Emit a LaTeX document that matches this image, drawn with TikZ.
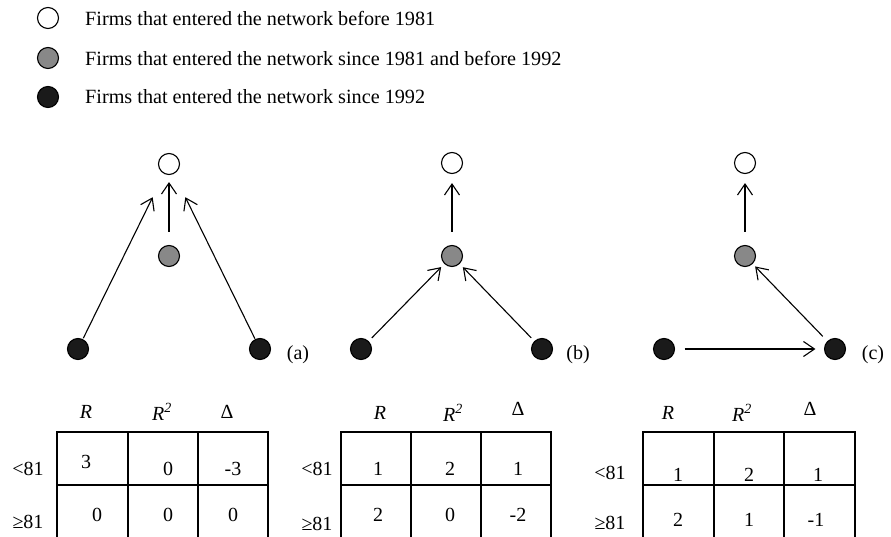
\documentclass[tikz,border=0pt]{standalone}
\usepackage{fontspec}
\setmainfont{Liberation Serif}
\usetikzlibrary{arrows.meta}
\definecolor{midgrey}{RGB}{136,136,136}
\definecolor{newblack}{RGB}{26,26,26}
\begin{document}
\begin{tikzpicture}[x=1pt,y=-1pt,
  firm/.style={circle,draw=black,line width=1.1pt,minimum size=21pt,inner sep=0pt},
  oldfirm/.style={firm,fill=white},
  midfirm/.style={firm,fill=midgrey},
  newfirm/.style={firm,fill=newblack},
  txt/.style={inner sep=0pt,font=\fontsize{20}{24}\selectfont},
  legtxt/.style={inner sep=0pt,anchor=west,font=\fontsize{20.2}{24}\selectfont},
  link/.style={-{Straight Barb[length=11pt,width=15pt]},line width=1.1pt},
  outer/.style={line width=2pt},
  inner/.style={line width=1.1pt}
]
\useasboundingbox (0,0) rectangle (891,537);
\clip (0,0) rectangle (891,537);

% legend
\node[oldfirm] (l1) at (48,18) {};
\node[midfirm] (l2) at (48,58) {};
\node[newfirm] (l3) at (48,97) {};
\node[legtxt] (t1) at (85,18) {Firms that entered the network before 1981};
\node[legtxt] (t2) at (85,58) {Firms that entered the network since 1981 and before 1992};
\node[legtxt] (t3) at (85,97) {Firms that entered the network since 1992};

% graph (a)
\node[oldfirm] (a1) at (169,164) {};
\node[midfirm] (a2) at (169,256) {};
\node[newfirm] (a3) at (78,349) {};
\node[newfirm] (a4) at (260,349) {};
\node[txt] (alab) at (298,355) {(a)};
\draw[link,shorten <=13pt,shorten >=7pt] (a2) -- (a1);
\draw[link,shorten <=1pt,shorten >=26pt] (a3) -- (a1);
\draw[link,shorten <=0.5pt,shorten >=26pt] (a4) -- (a1);

% graph (b)
\node[oldfirm] (b1) at (452,163) {};
\node[midfirm] (b2) at (452,256) {};
\node[newfirm] (b3) at (361,349) {};
\node[newfirm] (b4) at (542,349) {};
\node[txt] (blab) at (578,355) {(b)};
\draw[link,shorten <=13pt,shorten >=9pt] (b2) -- (b1);
\draw[link,shorten <=4.5pt,shorten >=4.5pt] (b3) -- (b2);
\draw[link,shorten <=4.5pt,shorten >=4.5pt] (b4) -- (b2);

% graph (c)
\node[oldfirm] (c1) at (745,163) {};
\node[midfirm] (c2) at (745,256) {};
\node[newfirm] (c3) at (664,349) {};
\node[newfirm] (c4) at (835,349) {};
\node[txt] (clab) at (873,355) {(c)};
\draw[link,shorten <=13pt,shorten >=9pt] (c2) -- (c1);
\draw[link,shorten <=9.5pt,shorten >=8.5pt] (c3) -- (c4);
\draw[link,shorten <=6.5pt,shorten >=3.5pt] (c4) -- (c2);

% table (a)
\draw[inner] (57,485) -- (268,485);
\draw[inner] (128,432) -- (128,545);
\draw[inner] (198,432) -- (198,545);
\draw[outer] (57,545) -- (57,432) -- (268,432) -- (268,545);
\node[txt] (ahR) at (86,412) {\textit{R}};
\node[txt] (ahR2) at (162,412) {\textit{R\textsuperscript{2}}};
\node[txt] (ahD) at (227,412) {Δ};
\node[txt] (ar1) at (28,469) {<81};
\node[txt] (ar2) at (28,522) {≥81};
\node[txt] (a11) at (86,462) {3};
\node[txt] (a12) at (168,469) {0};
\node[txt] (a13) at (233,469) {-3};
\node[txt] (a21) at (97,515) {0};
\node[txt] (a22) at (168,515) {0};
\node[txt] (a23) at (233,515) {0};

% table (b)
\draw[inner] (341,485) -- (551,485);
\draw[inner] (411,432) -- (411,545);
\draw[inner] (481,432) -- (481,545);
\draw[outer] (341,545) -- (341,432) -- (551,432) -- (551,545);
\node[txt] (bhR) at (380,413) {\textit{R}};
\node[txt] (bhR2) at (453,413) {\textit{R\textsuperscript{2}}};
\node[txt] (bhD) at (518,409) {Δ};
\node[txt] (br1) at (317,469) {<81};
\node[txt] (br2) at (317,524) {≥81};
\node[txt] (b11) at (378,469) {1};
\node[txt] (b12) at (450,469) {2};
\node[txt] (b13) at (518,469) {1};
\node[txt] (b21) at (378,515) {2};
\node[txt] (b22) at (450,515) {0};
\node[txt] (b23) at (518,515) {-2};

% table (c)
\draw[inner] (643,485) -- (855,485);
\draw[inner] (714,432) -- (714,545);
\draw[inner] (784,432) -- (784,545);
\draw[outer] (643,545) -- (643,432) -- (855,432) -- (855,545);
\node[txt] (chR) at (668,413) {\textit{R}};
\node[txt] (chR2) at (742,413) {\textit{R\textsuperscript{2}}};
\node[txt] (chD) at (810,409) {Δ};
\node[txt] (cr1) at (610,473) {<81};
\node[txt] (cr2) at (610,523) {≥81};
\node[txt] (c11) at (678,475) {1};
\node[txt] (c12) at (749,475) {2};
\node[txt] (c13) at (818,475) {1};
\node[txt] (c21) at (678,520) {2};
\node[txt] (c22) at (749,520) {1};
\node[txt] (c23) at (816,520) {-1};
\end{tikzpicture}
\end{document}
